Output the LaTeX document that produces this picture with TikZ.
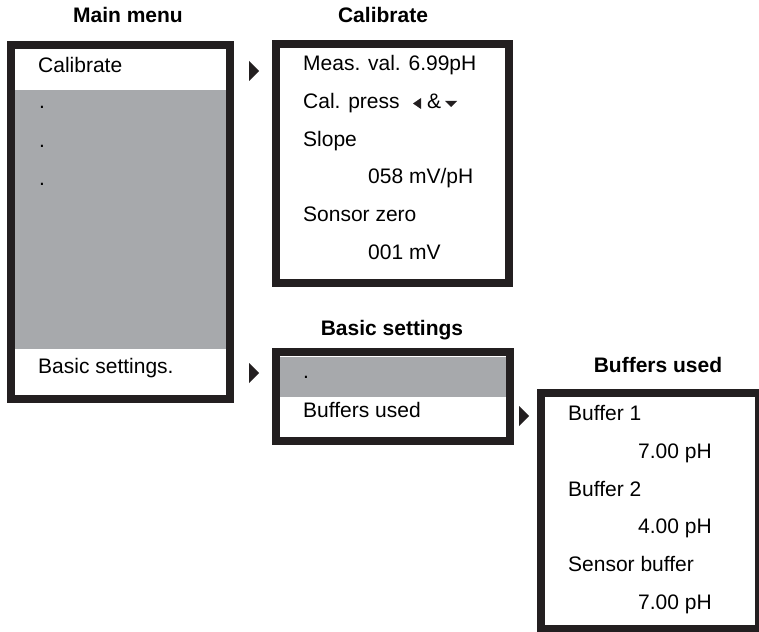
\documentclass[tikz,border=0pt]{standalone}
\usepackage{fontspec}
\setmainfont{Liberation Sans}
\definecolor{framegray}{HTML}{231F20}
\definecolor{selgray}{HTML}{A7A9AC}
\tikzstyle{frame}=[draw=framegray,line width=8pt]
\tikzstyle{shade}=[fill=selgray]
\tikzstyle{entry}=[anchor=base west,inner sep=0pt,font=\fontsize{21}{25}\selectfont]
\tikzstyle{heading}=[anchor=base,inner sep=0pt,font=\fontsize{21}{25}\selectfont\bfseries]
\tikzstyle{pointer}=[fill=framegray]

\begin{document}
\begin{tikzpicture}[x=1pt,y=-1pt]
    \useasboundingbox (0,0) rectangle (759,631);
    % First we shade the entries that are not selected
    \fill[shade] (15,90) rectangle (226,349);
    \fill[shade] (280,357) rectangle (506,397);
    % Then the screen frames
    \foreach \xa/\ya/\xb/\yb in {11/45/230/399, 276/44/509/283, 276/352/510/441, 541/393/759/629}
        \draw[frame] (\xa,\ya) rectangle (\xb,\yb);
    % Headings over the screens
    \foreach \pos/\name/\txt in {{(128,23)/hmain/Main menu}, {(383,23)/hcal/Calibrate}, {(392,335)/hbas/Basic settings}, {(658,372)/hbuf/Buffers used}}
        \node[heading] (\name) at \pos {\txt};
    % Menu entries
    \foreach \pos/\name/\txt in {{(38,72.5)/mcal/Calibrate}, {(39,109)/mdotA/.}, {(39,147)/mdotB/.}, {(39,185)/mdotC/.}, {(38,373)/mbas/Basic settings.},
        {(303,71)/cmeas/Meas. val. 6.99pH}, {(303,108.6)/cpress/Cal. press}, {(427,108.6)/camp/\&}, {(303,146.2)/cslope/Slope}, {(368,183.8)/cslval/{058 mV/pH}}, {(303,221.4)/czero/Sonsor zero}, {(368,259)/czval/001 mV},
        {(303,378)/bdot/.}, {(303,417)/bbuf/Buffers used},
        {(568,420)/uone/Buffer 1}, {(638,458)/uoneval/7.00 pH}, {(568,496)/utwo/Buffer 2}, {(638,533)/utwoval/4.00 pH}, {(568,571)/usens/Sensor buffer}, {(638,609)/usensval/7.00 pH}}
        \node[entry] (\name) at \pos {\txt};
    % Key symbols in the calibrate line
    \coordinate (kleft) at (421,98);
    \coordinate (kdown) at (445,101);
    \fill[pointer] (kleft) -- ++(0,11) -- ++(-8,-5.5) -- cycle;
    \fill[pointer] (kdown) -- ++(12,0) -- ++(-6,6) -- cycle;
    % Pointers to the sub menus
    \foreach \pos/\name in {{(249,61)/pcal}, {(249,363)/pbas}, {(519,406)/pbuf}}
        \fill[pointer] \pos coordinate (\name) -- ++(10,10) -- ++(-10,10) -- cycle;
\end{tikzpicture}
\end{document}
